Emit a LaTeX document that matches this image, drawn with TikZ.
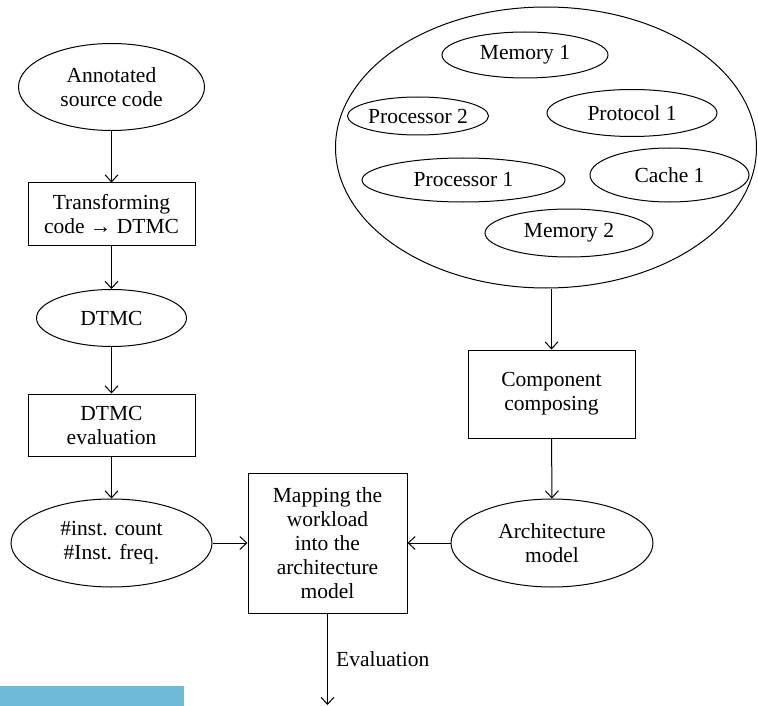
\documentclass[tikz,border=0pt]{standalone}
\usepackage{fontspec}
\setmainfont{Liberation Serif}
\usetikzlibrary{shapes.geometric,arrows.meta}
\definecolor{barblue}{RGB}{110,186,216}
\begin{document}
\begin{tikzpicture}[x=1pt,y=-1pt,
  every node/.style={font=\fontsize{21.5}{24}\selectfont, align=center, inner sep=0pt},
  oval/.style={draw, ellipse, line width=1pt},
  block/.style={draw, rectangle, line width=1pt},
  flow/.style={line width=1pt, -{Straight Barb[length=7pt,width=13pt]}}]
\useasboundingbox (0,0) rectangle (758,706);
\fill[barblue] (0,686) rectangle (184,706);

% workload side
\node[oval, minimum width=186pt, minimum height=87pt] (src) at (111.5,87) {Annotated\\source code};
\node[block, minimum width=167pt, minimum height=62pt] (trans) at (111.5,214) {Transforming\\code \textrightarrow\ DTMC};
\node[oval, minimum width=150pt, minimum height=57pt] (dtmc) at (111.5,318) {DTMC};
\node[block, minimum width=167pt, minimum height=62pt] (deval) at (111.5,425) {DTMC\\evaluation};
\node[oval, minimum width=201pt, minimum height=88pt] (inst) at (111.5,543) {\#inst. count\\\#Inst. freq.};

% mapping
\node[block, minimum width=159pt, minimum height=140pt] (map) at (327.5,543) {Mapping the\\workload\\into the\\architecture\\model};
\coordinate (out) at (327.5,705);
\node[anchor=west] (evl) at (336,659) {Evaluation};

% architecture side
\node[oval, minimum width=421pt, minimum height=281pt] (lib) at (546,147.5) {};
\node[oval, minimum width=166pt, minimum height=46pt] (mem1) at (525,55) {Memory 1};
\node[oval, minimum width=130pt, minimum height=38pt] (proc2) at (418,116) {Processor 2};
\node[oval, minimum width=170pt, minimum height=47pt] (prot1) at (632,113) {Protocol 1};
\node[oval, minimum width=203pt, minimum height=44pt] (proc1) at (463.5,180) {Processor 1};
\node[oval, minimum width=159pt, minimum height=54pt] (cache1) at (669.5,175) {Cache 1};
\node[oval, minimum width=168pt, minimum height=48pt] (mem2) at (569,233) {Memory 2};
\node[block, minimum width=167pt, minimum height=88pt] (comp) at (551.5,394) {Component\\composing};
\node[oval, minimum width=202pt, minimum height=88pt] (arch) at (552,543) {Architecture\\model};

% connectors
\draw[flow] (src) -- (trans);
\draw[flow] (trans) -- (dtmc);
\draw[flow] (dtmc) -- (deval);
\draw[flow] (deval) -- (inst);
\draw[flow] (inst) -- (map);
\draw[flow] (comp.north |- lib.south) -- (comp.north);
\draw[flow] (comp) -- (arch);
\draw[flow] (arch) -- (map);
\draw[flow] (map) -- (out);
\end{tikzpicture}
\end{document}
